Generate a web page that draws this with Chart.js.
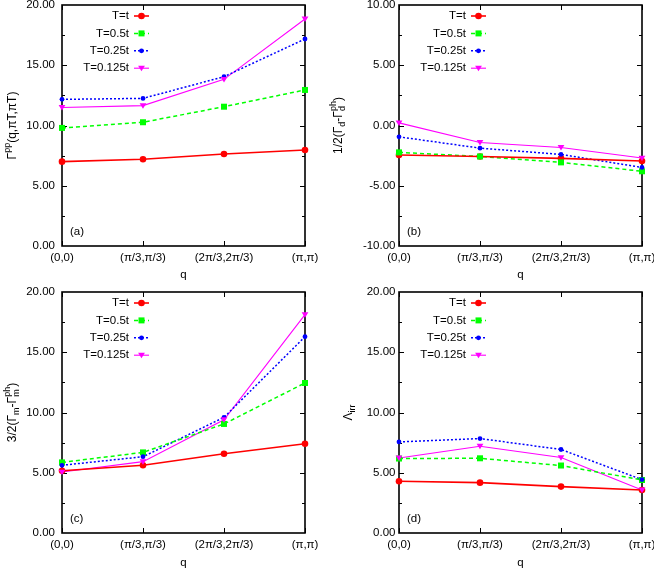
<!DOCTYPE html>
<html>
<head>
<meta charset="utf-8">
<script src="https://cdn.jsdelivr.net/npm/chart.js@4.4.0/dist/chart.umd.min.js"></script>
<style>
  html, body { margin: 0; padding: 0; background: #fff; }
  #wrap { position: relative; width: 654px; height: 569px; }
  canvas { position: absolute; }
</style>
</head>
<body>
<div id="wrap">
  <canvas id="pa" width="327" height="283" style="left:0;top:0"></canvas>
  <canvas id="pb" width="327" height="283" style="left:327px;top:0"></canvas>
  <canvas id="pc" width="327" height="286" style="left:0;top:283px"></canvas>
  <canvas id="pd" width="327" height="286" style="left:327px;top:283px"></canvas>
</div>
<script>
(() => {
    'use strict';

    const qLabels = ['(0,0)', '(π/3,π/3)', '(2π/3,2π/3)', '(π,π)'];
    const seriesNames = ['T=t', 'T=0.5t', 'T=0.25t', 'T=0.125t'];

    // (a) Gamma^pp(q, piT, piT)
    const ppT1 = [7.0, 7.2, 7.63, 7.97];
    const ppT05 = [9.8, 10.27, 11.56, 12.95];
    const ppT025 = [12.17, 12.25, 14.05, 17.18];
    const ppT0125 = [11.5, 11.65, 13.83, 18.84];

    // (b) 1/2(Gamma_d - Gamma_d^ph)
    const dT1 = [-2.45, -2.57, -2.73, -2.95];
    const dT05 = [-2.23, -2.57, -3.06, -3.8];
    const dT025 = [-0.94, -1.88, -2.4, -3.48];
    const dT0125 = [0.22, -1.41, -1.82, -2.7];

    // (c) 3/2(Gamma_m - Gamma_m^ph)
    const mT1 = [5.17, 5.62, 6.58, 7.41];
    const mT05 = [5.86, 6.69, 9.05, 12.45];
    const mT025 = [5.62, 6.33, 9.6, 16.29];
    const mT0125 = [5.06, 5.92, 9.4, 18.12];

    // (d) Lambda_irr
    const irrT1 = [4.29, 4.18, 3.85, 3.57];
    const irrT05 = [6.18, 6.2, 5.6, 4.4];
    const irrT025 = [7.56, 7.84, 6.93, 4.43];
    const irrT0125 = [6.23, 7.2, 6.26, 3.57];

    const FONT = '"Liberation Sans", Arial, Helvetica, sans-serif';
    Chart.defaults.font.family = FONT;
    Chart.defaults.font.size = 11;
    Chart.defaults.color = '#000';

    const seriesStyles = [
        { color: '#ff0000', width: 1.6, dash: [], point: 'circle', radius: 3.3 },
        { color: '#00ff00', width: 1.5, dash: [4, 3], point: 'rect', radius: 4 },
        { color: '#0000ff', width: 1.5, dash: [2, 2], point: 'circle', radius: 2.4 },
        { color: '#ff00ff', width: 1.1, dash: [], point: 'tridown', radius: 3.4 },
    ];

    const drawMarker = (ctx, style, x, y) => {
        const r = style.radius;
        ctx.save();
        ctx.setLineDash([]);
        ctx.fillStyle = style.color;
        ctx.beginPath();
        if (style.point === 'rect') {
            ctx.rect(x - r * 0.75, y - r * 0.75, r * 1.5, r * 1.5);
        } else if (style.point === 'tridown') {
            ctx.moveTo(x - r, y - r * 0.7);
            ctx.lineTo(x + r, y - r * 0.7);
            ctx.lineTo(x, y + r * 0.9);
            ctx.closePath();
        } else {
            ctx.arc(x, y, r, 0, Math.PI * 2);
        }
        ctx.fill();
        ctx.restore();
    };

    const drawRich = (ctx, parts, cx, cy) => {
        const big = '12px ' + FONT;
        const small = '9px ' + FONT;
        const widthOf = (p) => {
            if (p.t) {
                ctx.font = big;
                return ctx.measureText(p.t).width;
            }
            ctx.font = small;
            return Math.max(p.sub ? ctx.measureText(p.sub).width : 0, p.sup ? ctx.measureText(p.sup).width : 0);
        };
        ctx.save();
        ctx.translate(cx, cy);
        ctx.rotate(-Math.PI / 2);
        const total = parts.reduce((s, p) => s + widthOf(p), 0);
        let x = -total / 2;
        ctx.fillStyle = '#000';
        ctx.textAlign = 'left';
        ctx.textBaseline = 'middle';
        parts.forEach((p) => {
            const w = widthOf(p);
            if (p.t) {
                ctx.font = big;
                ctx.fillText(p.t, x, 0);
            } else {
                ctx.font = small;
                if (p.sub) ctx.fillText(p.sub, x, 4);
                if (p.sup) ctx.fillText(p.sup, x, -5.5);
            }
            x += w;
        });
        ctx.restore();
    };

    const gnuFrame = {
        id: 'gnuFrame',
        beforeDatasetsDraw(chart) {
            const ctx = chart.ctx;
            const area = chart.chartArea;
            const xs = chart.scales.x;
            const ys = chart.scales.y;
            ctx.save();
            ctx.strokeStyle = '#000';
            ctx.lineWidth = 1;
            ctx.beginPath();
            for (let v = ys.min + 2.5; v < ys.max - 1e-6; v += 2.5) {
                const y = Math.round(ys.getPixelForValue(v)) + 0.5;
                const len = Math.abs(Math.round(v / 2.5)) % 2 === 0 ? 5 : 3;
                ctx.moveTo(area.left, y);
                ctx.lineTo(area.left + len, y);
                ctx.moveTo(area.right, y);
                ctx.lineTo(area.right - len, y);
            }
            xs.ticks.forEach((t, i) => {
                const x = Math.round(xs.getPixelForTick(i)) + 0.5;
                ctx.moveTo(x, area.bottom);
                ctx.lineTo(x, area.bottom - 5);
                ctx.moveTo(x, area.top);
                ctx.lineTo(x, area.top + 5);
            });
            ctx.stroke();
            ctx.lineWidth = 1.6;
            ctx.strokeRect(area.left, area.top, area.right - area.left, area.bottom - area.top);
            ctx.restore();
        },
        afterDraw(chart, args, opts) {
            const ctx = chart.ctx;
            const area = chart.chartArea;
            ctx.save();
            ctx.fillStyle = '#000';
            ctx.font = '11.5px ' + FONT;
            ctx.textBaseline = 'middle';

            ctx.textAlign = 'left';
            ctx.fillText(opts.tag, area.left + 8, area.bottom - 14);

            ctx.textAlign = 'center';
            ctx.fillText('q', (area.left + area.right) / 2, area.bottom + opts.qOffset);

            drawRich(ctx, opts.yTitle, opts.yTitleX, (area.top + area.bottom) / 2);

            ctx.font = '11.5px ' + FONT;
            chart.data.datasets.forEach((ds, i) => {
                const style = seriesStyles[i];
                const y = area.top + 11 + i * 17.4;
                ctx.textAlign = 'right';
                ctx.fillStyle = '#000';
                ctx.fillText(ds.label, area.left + 67, y);
                ctx.strokeStyle = style.color;
                ctx.lineWidth = style.width;
                ctx.setLineDash(style.dash);
                ctx.beginPath();
                ctx.moveTo(area.left + 72, y);
                ctx.lineTo(area.left + 87, y);
                ctx.stroke();
                drawMarker(ctx, style, area.left + 79.5, y);
            });
            ctx.restore();
        },
    };

    const markerPlugin = {
        id: 'gnuMarkers',
        afterDatasetsDraw(chart) {
            chart.data.datasets.forEach((ds, i) => {
                const meta = chart.getDatasetMeta(i);
                meta.data.forEach((pt) => drawMarker(chart.ctx, seriesStyles[i], pt.x, pt.y));
            });
        },
    };

    const makePanel = (id, cfg) => {
        const canvas = document.getElementById(id);
        const w = canvas.width;
        const h = canvas.height;
        return new Chart(canvas, {
            type: 'line',
            data: {
                labels: qLabels,
                datasets: cfg.series.map((values, i) => ({
                    label: seriesNames[i],
                    data: values,
                    borderColor: seriesStyles[i].color,
                    borderWidth: seriesStyles[i].width,
                    borderDash: seriesStyles[i].dash,
                    pointRadius: 0,
                    tension: 0,
                    fill: false,
                    clip: false,
                })),
            },
            plugins: [gnuFrame, markerPlugin],
            options: {
                responsive: false,
                animation: false,
                events: [],
                layout: {
                    padding: { top: cfg.top, right: w - cfg.right, left: 0, bottom: 0 },
                },
                scales: {
                    x: {
                        type: 'category',
                        offset: false,
                        grid: { display: false, drawTicks: false },
                        border: { display: false },
                        ticks: { padding: 5, maxRotation: 0, autoSkip: false, color: '#000', font: { size: 11.5 } },
                        afterFit: (scale) => {
                            scale.height = h - cfg.bottom;
                            scale.paddingLeft = 0;
                            scale.paddingRight = 0;
                        },
                    },
                    y: {
                        min: cfg.min,
                        max: cfg.max,
                        grid: { display: false, drawTicks: false },
                        border: { display: false },
                        ticks: {
                            stepSize: 5,
                            padding: cfg.tickPad,
                            color: '#000',
                            font: { size: 11.5 },
                            callback: (v) => Number(v).toFixed(2),
                        },
                        afterFit: (scale) => {
                            scale.width = cfg.left;
                            scale.paddingTop = 0;
                            scale.paddingBottom = 0;
                        },
                    },
                },
                plugins: {
                    legend: { display: false },
                    tooltip: { enabled: false },
                    gnuFrame: {
                        tag: cfg.tag,
                        yTitle: cfg.yTitle,
                        yTitleX: cfg.yTitleX,
                        qOffset: cfg.qOffset,
                    },
                },
            },
        });
    };

    makePanel('pa', {
        series: [ppT1, ppT05, ppT025, ppT0125],
        min: 0, max: 20, left: 62, right: 305, top: 5, bottom: 246,
        tickPad: 7, tag: '(a)', yTitleX: 13, qOffset: 29,
        yTitle: [{ t: 'Γ' }, { sup: 'pp' }, { t: '(q,πT,πT)' }],
    });
    makePanel('pb', {
        series: [dT1, dT05, dT025, dT0125],
        min: -10, max: 10, left: 72, right: 315, top: 5, bottom: 246,
        tickPad: 3.5, tag: '(b)', yTitleX: 12, qOffset: 29,
        yTitle: [{ t: '1/2(Γ' }, { sub: 'd' }, { t: '-Γ' }, { sub: 'd', sup: 'ph' }, { t: ')' }],
    });
    makePanel('pc', {
        series: [mT1, mT05, mT025, mT0125],
        min: 0, max: 20, left: 62, right: 305, top: 9, bottom: 250,
        tickPad: 7, tag: '(c)', yTitleX: 13, qOffset: 30,
        yTitle: [{ t: '3/2(Γ' }, { sub: 'm' }, { t: '-Γ' }, { sub: 'm', sup: 'ph' }, { t: ')' }],
    });
    makePanel('pd', {
        series: [irrT1, irrT05, irrT025, irrT0125],
        min: 0, max: 20, left: 72, right: 315, top: 9, bottom: 250,
        tickPad: 3.5, tag: '(d)', yTitleX: 22, qOffset: 30,
        yTitle: [{ t: 'Λ' }, { sub: 'irr' }],
    });
})();
</script>
</body>
</html>
